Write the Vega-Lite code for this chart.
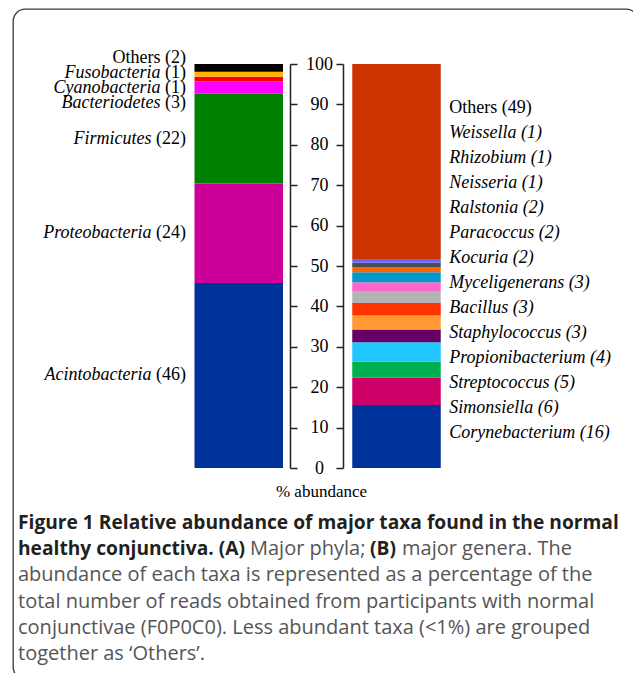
{
  "$schema": "https://vega.github.io/schema/vega-lite/v6.json",
  "width": 625,
  "height": 670,
  "autosize": {"type": "none"},
  "padding": {"left": 13, "top": 9, "right": -5, "bottom": -6},
  "background": "white",
  "config": {"view": {"stroke": "#3a3a3a", "strokeWidth": 1.3, "cornerRadius": 12}},
  "datasets": {
    "taxa": [
      {"panel": "A", "name": "Acintobacteria", "n": 46, "value": 45.8, "order": 1},
      {"panel": "A", "name": "Proteobacteria", "n": 24, "value": 24.6, "order": 2},
      {"panel": "A", "name": "Firmicutes", "n": 22, "value": 22.25, "order": 3},
      {"panel": "A", "name": "Bacteriodetes", "n": 3, "value": 3.05, "order": 4},
      {"panel": "A", "name": "Cyanobacteria", "n": 1, "value": 1.15, "order": 5},
      {"panel": "A", "name": "Fusobacteria", "n": 1, "value": 1.25, "order": 6},
      {"panel": "A", "name": "Others", "n": 2, "value": 1.9, "order": 7},
      {"panel": "B", "name": "Corynebacterium", "n": 16, "value": 15.6, "order": 1},
      {"panel": "B", "name": "Simonsiella", "n": 6, "value": 6.75, "order": 2},
      {"panel": "B", "name": "Streptococcus", "n": 5, "value": 4.0, "order": 3},
      {"panel": "B", "name": "Propionibacterium", "n": 4, "value": 4.8, "order": 4},
      {"panel": "B", "name": "Staphylococcus", "n": 3, "value": 3.15, "order": 5},
      {"panel": "B", "name": "Bacillus", "n": 3, "value": 3.45, "order": 6},
      {"panel": "B", "name": "Myceligenerans", "n": 3, "value": 3.1, "order": 7},
      {"panel": "B", "name": "Kocuria", "n": 2, "value": 2.8, "order": 8},
      {"panel": "B", "name": "Paracoccus", "n": 2, "value": 2.35, "order": 9},
      {"panel": "B", "name": "Ralstonia", "n": 2, "value": 2.45, "order": 10},
      {"panel": "B", "name": "Neisseria", "n": 1, "value": 1.15, "order": 11},
      {"panel": "B", "name": "Rhizobium", "n": 1, "value": 1.2, "order": 12},
      {"panel": "B", "name": "Weissella", "n": 1, "value": 0.95, "order": 13},
      {"panel": "B", "name": "Others", "n": 49, "value": 48.25, "order": 14}
    ],
    "caption": [
      {"line": 1, "part": 1, "text": "Figure 1 Relative abundance of major taxa found in the normal"},
      {"line": 2, "part": 1, "text": "healthy conjunctiva. (A)"},
      {"line": 2, "part": 2, "text": "Major phyla;"},
      {"line": 2, "part": 3, "text": "(B)"},
      {"line": 2, "part": 4, "text": "major genera. The"},
      {"line": 3, "part": 1, "text": "abundance of each taxa is represented as a percentage of the"},
      {"line": 4, "part": 1, "text": "total number of reads obtained from participants with normal"},
      {"line": 5, "part": 1, "text": "conjunctivae (F0P0C0). Less abundant taxa (<1%) are grouped"},
      {"line": 6, "part": 1, "text": "together as ‘Others’."}
    ]
  },
  "data": {"name": "taxa"},
  "layer": [
    {
      "transform": [
        {"stack": "value", "groupby": ["panel"], "sort": [{"field": "order", "order": "ascending"}], "as": ["y0", "y1"]},
        {"calculate": "(datum.y0 + datum.y1) / 2", "as": "mid"},
        {"calculate": "datum.panel + '|' + datum.name", "as": "key"},
        {"calculate": "'(' + datum.n + ')'", "as": "paren"}
      ],
      "layer": [
        {
          "mark": {"type": "bar"},
          "encoding": {
            "x": {
              "field": "panel", "type": "nominal",
              "scale": {"type": "band", "domain": ["A", "B"], "range": [181.5, 427.75], "paddingInner": 0.439, "paddingOuter": 0},
              "axis": {"orient": "top", "offset": -39, "ticks": false, "tickSize": 0, "domain": false, "labelAngle": 0, "labelPadding": 0, "labelBaseline": "alphabetic", "labelFont": "Liberation Sans", "labelFontWeight": "bold", "labelFontSize": 30, "labelColor": "#000000", "title": null, "grid": false}
            },
            "y": {
              "field": "y1", "type": "quantitative",
              "scale": {"domain": [0, 100], "range": [459, 55], "nice": false, "zero": false},
              "axis": {"orient": "left", "offset": -330, "values": [0, 10, 20, 30, 40, 50, 60, 70, 80, 90, 100], "tickSize": 7, "tickWidth": 1.5, "tickColor": "#222222", "domainColor": "#222222", "domainWidth": 1.5, "grid": false, "labelFont": "Liberation Serif", "labelFontSize": 18, "labelColor": "#000000", "labelAlign": "center", "labelBaseline": "middle", "labelPadding": 17, "labelFlush": false, "labelOverlap": false, "title": "% abundance", "titleFont": "Liberation Serif", "titleFontSize": 17, "titleFontWeight": "normal", "titleColor": "#000000", "titleAngle": 0, "titleX": -22, "titleY": 482, "titleAlign": "center", "titleBaseline": "middle"}
            },
            "y2": {"field": "y0"},
            "color": {
              "field": "key", "type": "nominal", "legend": null,
              "scale": {
                "domain": ["A|Acintobacteria", "A|Proteobacteria", "A|Firmicutes", "A|Bacteriodetes", "A|Cyanobacteria", "A|Fusobacteria", "A|Others", "B|Corynebacterium", "B|Simonsiella", "B|Streptococcus", "B|Propionibacterium", "B|Staphylococcus", "B|Bacillus", "B|Myceligenerans", "B|Kocuria", "B|Paracoccus", "B|Ralstonia", "B|Neisseria", "B|Rhizobium", "B|Weissella", "B|Others"],
                "range": ["#003399", "#CC0099", "#008000", "#FF00FF", "#FF0000", "#FFB400", "#000000", "#003399", "#CC0066", "#00B050", "#1FC6FF", "#660066", "#FF9933", "#FF3300", "#B3B3B3", "#FF66CC", "#0099CC", "#FF6600", "#4D4D4D", "#6666FF", "#CC3300"]
              }
            }
          }
        },
        {
          "transform": [{"filter": "datum.panel === 'A' && datum.value > 10"}],
          "mark": {"type": "text", "font": "Liberation Serif", "fontSize": 18, "align": "right", "baseline": "middle", "dx": -8.5, "color": "#000000"},
          "encoding": {
            "x": {"field": "panel", "type": "nominal", "bandPosition": 0, "axis": null},
            "y": {"field": "mid", "type": "quantitative", "axis": {"orient": "right", "offset": -348, "values": [0, 10, 20, 30, 40, 50, 60, 70, 80, 90, 100], "labels": false, "tickSize": 7, "tickWidth": 1.5, "tickColor": "#222222", "domainColor": "#222222", "domainWidth": 1.5, "grid": false, "title": null}},
            "text": {"field": "paren"}
          }
        },
        {
          "transform": [{"filter": "datum.panel === 'A' && datum.value > 10"}],
          "mark": {"type": "text", "font": "Liberation Serif", "fontSize": 18, "fontStyle": "italic", "align": "right", "baseline": "middle", "dx": -43, "color": "#000000"},
          "encoding": {
            "x": {"field": "panel", "type": "nominal", "bandPosition": 0, "axis": null},
            "y": {"field": "mid", "type": "quantitative", "axis": null},
            "text": {"field": "name"}
          }
        }
      ]
    },
    {
      "transform": [
        {"filter": "datum.panel === 'A' && datum.value <= 10"},
        {"calculate": "datum.name === 'Others' ? 'Others (' + datum.n + ')' : '(' + datum.n + ')'", "as": "tail"}
      ],
      "layer": [
        {
          "mark": {"type": "text", "font": "Liberation Serif", "fontSize": 18, "align": "right", "baseline": "middle", "dx": -8.5, "color": "#000000"},
          "encoding": {
            "x": {"field": "panel", "type": "nominal", "bandPosition": 0, "axis": null},
            "y": {"field": "order", "type": "ordinal", "sort": "descending", "scale": {"type": "point", "range": [49.3, 93.7], "padding": 0}, "axis": null},
            "text": {"field": "tail"}
          }
        },
        {
          "transform": [{"filter": "datum.name !== 'Others'"}],
          "mark": {"type": "text", "font": "Liberation Serif", "fontSize": 18, "fontStyle": "italic", "align": "right", "baseline": "middle", "dx": -34, "color": "#000000"},
          "encoding": {
            "x": {"field": "panel", "type": "nominal", "bandPosition": 0, "axis": null},
            "y": {"field": "order", "type": "ordinal", "sort": "descending", "axis": null},
            "text": {"field": "name"}
          }
        }
      ]
    },
    {
      "transform": [
        {"filter": "datum.panel === 'B'"},
        {"calculate": "datum.name + ' (' + datum.n + ')'", "as": "label"}
      ],
      "layer": [
        {
          "transform": [{"filter": "datum.name === 'Others'"}],
          "mark": {"type": "text", "font": "Liberation Serif", "fontSize": 18, "align": "left", "baseline": "middle", "dx": 8.5, "color": "#000000"},
          "encoding": {
            "x": {"field": "panel", "type": "nominal", "bandPosition": 1, "axis": null},
            "y": {"field": "order", "type": "ordinal", "sort": "descending", "scale": {"type": "point", "range": [99, 423.7], "padding": 0}, "axis": null},
            "text": {"field": "label"}
          }
        },
        {
          "transform": [{"filter": "datum.name !== 'Others'"}],
          "mark": {"type": "text", "font": "Liberation Serif", "fontSize": 18, "fontStyle": "italic", "align": "left", "baseline": "middle", "dx": 8.5, "color": "#000000"},
          "encoding": {
            "x": {"field": "panel", "type": "nominal", "bandPosition": 1, "axis": null},
            "y": {"field": "order", "type": "ordinal", "sort": "descending", "axis": null},
            "text": {"field": "label"}
          }
        }
      ]
    },
    {
      "data": {"name": "caption"},
      "layer": [
        {
          "transform": [{"filter": "datum.line <= 2 && datum.part === 1"}],
          "mark": {"type": "text", "font": "Open Sans", "fontSize": 19.2, "fontWeight": "bold", "align": "left", "baseline": "middle", "color": "#231f20"},
          "encoding": {
            "x": {"value": 5},
            "y": {"field": "line", "type": "ordinal", "scale": {"type": "point", "domain": [1, 2, 3, 4, 5, 6], "range": [514, 645], "padding": 0}, "axis": null},
            "text": {"field": "text"}
          }
        },
        {
          "transform": [{"filter": "datum.line >= 3"}],
          "mark": {"type": "text", "font": "Open Sans", "fontSize": 20, "align": "left", "baseline": "middle", "color": "#555555"},
          "encoding": {
            "x": {"value": 5},
            "y": {"field": "line", "type": "ordinal", "axis": null},
            "text": {"field": "text"}
          }
        },
        {
          "transform": [{"filter": "datum.line === 2 && datum.part === 2"}],
          "mark": {"type": "text", "font": "Open Sans", "fontSize": 20, "align": "left", "baseline": "middle", "dx": 232, "color": "#555555"},
          "encoding": {
            "x": {"value": 5},
            "y": {"field": "line", "type": "ordinal", "axis": null},
            "text": {"field": "text"}
          }
        },
        {
          "transform": [{"filter": "datum.line === 2 && datum.part === 3"}],
          "mark": {"type": "text", "font": "Open Sans", "fontSize": 19.2, "fontWeight": "bold", "align": "left", "baseline": "middle", "dx": 352, "color": "#231f20"},
          "encoding": {
            "x": {"value": 5},
            "y": {"field": "line", "type": "ordinal", "axis": null},
            "text": {"field": "text"}
          }
        },
        {
          "transform": [{"filter": "datum.line === 2 && datum.part === 4"}],
          "mark": {"type": "text", "font": "Open Sans", "fontSize": 20, "align": "left", "baseline": "middle", "dx": 384, "color": "#555555"},
          "encoding": {
            "x": {"value": 5},
            "y": {"field": "line", "type": "ordinal", "axis": null},
            "text": {"field": "text"}
          }
        }
      ]
    }
  ],
  "resolve": {"scale": {"y": "independent"}, "axis": {"y": "independent"}}
}
